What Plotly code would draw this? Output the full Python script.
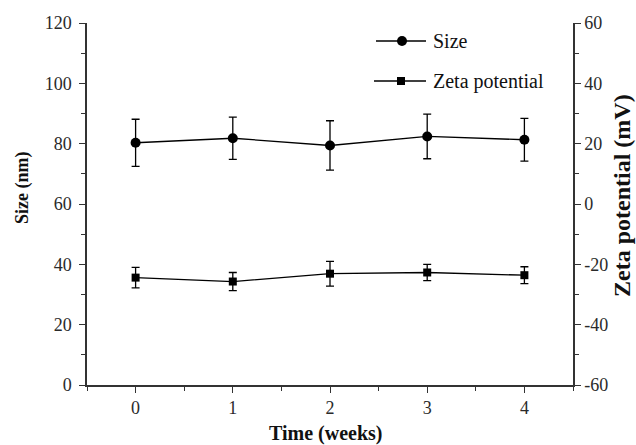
import plotly.graph_objects as go

weeks = [0, 1, 2, 3, 4]
size_nm = [80.3, 81.8, 79.4, 82.4, 81.3]
size_err = [7.8, 7.0, 8.2, 7.4, 7.1]
zeta_mv = [-24.4, -25.7, -23.1, -22.7, -23.6]
zeta_err = [3.4, 3.0, 4.1, 2.7, 2.8]
size_ticks = [0, 20, 40, 60, 80, 100, 120]
zeta_ticks = [-60, -40, -20, 0, 20, 40, 60]
zeta_ticktext = ["-60", "-40", "-20", "0", "20", "40", "60"]

FONT = "Liberation Serif, Times New Roman, serif"
AX = "#333333"

W, H = 636, 445
ML, MR, MT, MB = 87, 63, 23, 60
PW, PH = W - ML - MR, H - MT - MB


def px(x):
    return (x - ML) / PW


def py(y):
    return (H - MB - y) / PH


fig = go.Figure()
fig.add_trace(go.Scatter(
    x=weeks, y=size_nm, name="Size",
    mode="lines+markers",
    line=dict(color="black", width=1.3),
    marker=dict(symbol="circle", size=10, color="black"),
    error_y=dict(type="data", array=size_err, color="black", thickness=1.3, width=4),
))
fig.add_trace(go.Scatter(
    x=weeks, y=zeta_mv, name="Zeta potential", yaxis="y2",
    mode="lines+markers",
    line=dict(color="black", width=1.3),
    marker=dict(symbol="square", size=8, color="black"),
    error_y=dict(type="data", array=zeta_err, color="black", thickness=1.3, width=4),
))

axis_common = dict(
    showline=True, linecolor=AX, linewidth=1.5, mirror=False,
    ticks="outside", ticklen=6, tickwidth=1.3, tickcolor=AX,
    showgrid=False, zeroline=False,
    tickfont=dict(family=FONT, size=18, color="#2a2a2a"),
)
minor = dict(ticks="outside", ticklen=4, tickwidth=1.3, tickcolor=AX)

# custom legend (decoration)
shapes = []
annotations = []
legend_rows = [("Size", "circle", 41, 376), ("Zeta potential", "square", 81, 374)]
for label, sym, yy, x0 in legend_rows:
    shapes.append(dict(type="line", xref="paper", yref="paper",
                       x0=px(x0), x1=px(426), y0=py(yy), y1=py(yy),
                       line=dict(color="black", width=1.3)))
    if sym == "circle":
        shapes.append(dict(type="circle", xref="paper", yref="paper",
                           xsizemode="pixel", ysizemode="pixel",
                           xanchor=px(402), yanchor=py(yy),
                           x0=-5, x1=5, y0=-5, y1=5,
                           fillcolor="black", line=dict(width=0)))
    else:
        shapes.append(dict(type="rect", xref="paper", yref="paper",
                           xsizemode="pixel", ysizemode="pixel",
                           xanchor=px(401), yanchor=py(yy),
                           x0=-4, x1=4, y0=-4, y1=4,
                           fillcolor="black", line=dict(width=0)))
    annotations.append(dict(text=label, xref="paper", yref="paper",
                            x=px(431), y=py(yy), xanchor="left", yanchor="middle",
                            showarrow=False,
                            font=dict(family=FONT, size=20, color="#111")))

# axis titles
annotations.append(dict(text="<b>Time (weeks)</b>", xref="paper", yref="paper",
                        x=px(326), y=py(433), xanchor="center", yanchor="middle",
                        showarrow=False, font=dict(family=FONT, size=20, color="#111")))
annotations.append(dict(text="<b>Size (nm)</b>", xref="paper", yref="paper",
                        x=px(22), y=py(188), xanchor="center", yanchor="middle",
                        textangle=-90, showarrow=False,
                        font=dict(family=FONT, size=18, color="#111")))
annotations.append(dict(text="<b>Zeta potential (mV)</b>", xref="paper", yref="paper",
                        x=px(622), y=py(196), xanchor="center", yanchor="middle",
                        textangle=-90, showarrow=False,
                        font=dict(family=FONT, size=24, color="#111")))

fig.update_layout(
    width=W, height=H,
    margin=dict(l=ML, r=MR, t=MT, b=MB),
    paper_bgcolor="white", plot_bgcolor="white",
    font=dict(family=FONT, color="#111"),
    xaxis=dict(
        range=[-0.5, 4.5], tickmode="array", tickvals=weeks,
        minor=dict(dtick=0.5, tick0=0.5, **minor),
        **axis_common,
    ),
    yaxis=dict(
        range=[0, 120], tickmode="array", tickvals=size_ticks,
        minor=dict(dtick=10, tick0=0, **minor),
        ticklabelstandoff=4,
        **axis_common,
    ),
    yaxis2=dict(
        range=[-60, 60], overlaying="y", side="right",
        tickmode="array", tickvals=zeta_ticks, ticktext=zeta_ticktext,
        minor=dict(dtick=10, tick0=0, **minor),
        **axis_common,
    ),
    shapes=shapes,
    annotations=annotations,
    showlegend=False,
)

fig.write_html("out.html")
